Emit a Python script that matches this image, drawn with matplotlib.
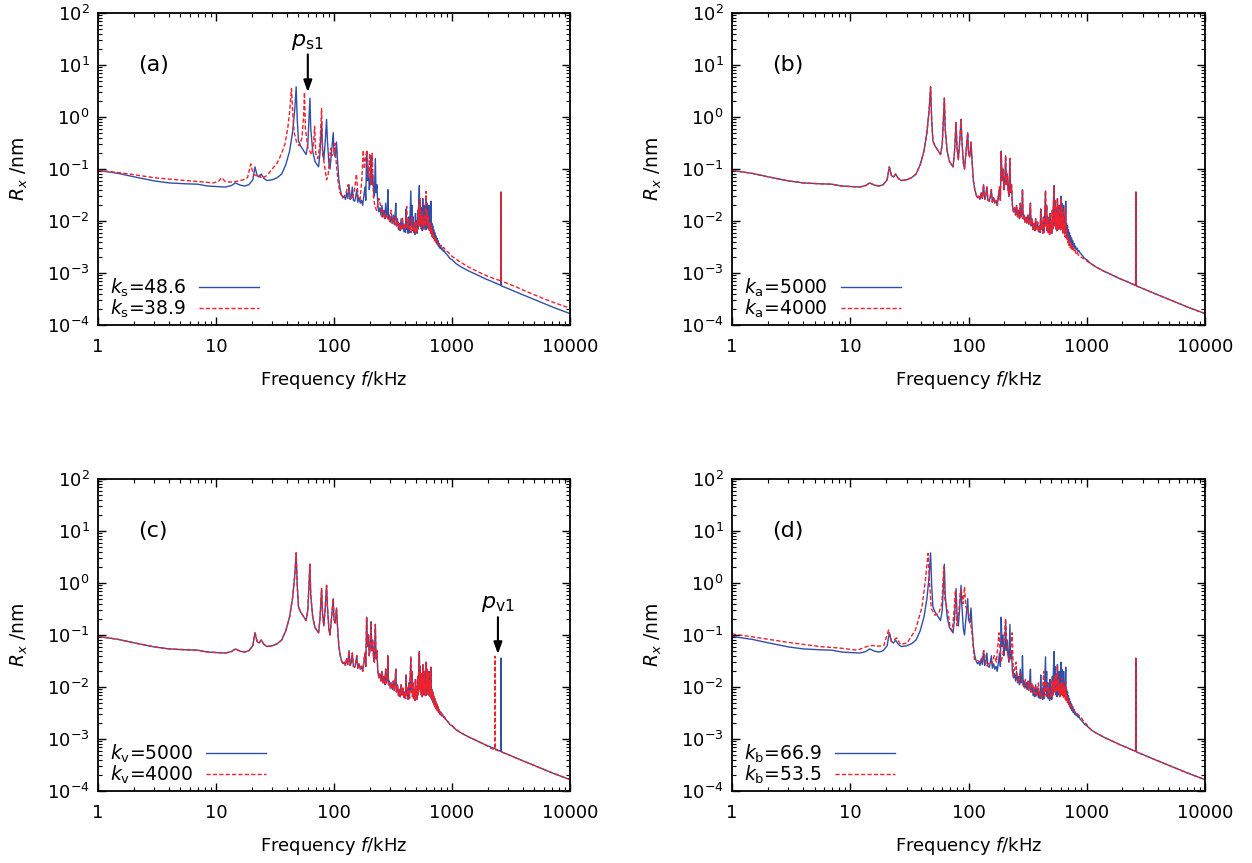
import numpy as np
import matplotlib
matplotlib.use("Agg")
import matplotlib.pyplot as plt
from matplotlib.ticker import LogLocator, FuncFormatter, NullFormatter

# ---- data (f in kHz, R_x in nm) ----
# common (reference) response, drawn blue in every panel: 1 - 1000 kHz
BASE_F = [1.0, 1.5, 2.0, 3.0, 4.0, 5.5, 7.0, 8.5, 10, 12, 13.5, 14.6, 16, 17.5, 19,
          20.5, 21.4, 22.3, 23.2, 24.2, 25.5, 27, 30, 33, 36, 39, 42, 44.5, 46.5, 47.8,
          48.8, 50, 52, 55, 58, 60, 61.5, 62.5, 63.5, 66, 69, 72, 74, 76, 78.5,
          80, 82, 84, 86.5, 88, 90.5, 92.5, 95, 98.5, 100, 102.5, 105, 107,
          110, 113, 116, 119, 122, 125, 128, 131, 134, 137, 140, 143, 146, 150, 153,
          156, 159, 163, 167, 171, 175, 179, 183, 186, 189, 192, 196, 199, 203, 206,
          209, 213, 216, 220, 224, 227, 231, 235, 240, 245, 250, 255, 260, 265, 270,
          274, 278, 283, 286, 290, 295, 300, 306, 312, 318, 324, 330, 334, 338, 345,
          352, 358, 364, 370, 377, 384, 391, 398, 404, 408, 412, 418, 424, 430, 436,
          442, 448, 452, 458, 463, 468, 473, 479, 485, 490, 495, 501, 506, 512, 517,
          522, 529, 533, 537, 541, 546, 550, 555, 560, 565, 569, 574, 579, 584, 589,
          594, 600, 605, 610, 615, 620, 626, 631, 637, 642, 648, 653, 658, 664, 669,
          675, 681, 687, 693, 700, 707, 714, 721, 728, 736, 744, 752, 760, 770, 780,
          790, 802, 815, 830, 845, 860, 880, 900, 930, 960, 1000]
BASE_R = [0.094, 0.082, 0.071, 0.059, 0.054, 0.052, 0.051, 0.047, 0.046, 0.045, 0.048, 0.054, 0.049, 0.047, 0.050,
          0.062, 0.11, 0.075, 0.070, 0.080, 0.066, 0.060, 0.062, 0.068, 0.080, 0.12, 0.22, 0.50, 1.4, 3.8,
          0.9, 0.35, 0.28, 0.23, 0.19, 0.3, 1.0, 2.3, 0.6, 0.22, 0.14, 0.12, 0.11, 0.2, 0.78,
          0.25, 0.15, 0.3, 0.9, 0.35, 0.13, 0.10, 0.2, 0.5, 0.2, 0.17, 0.33, 0.15,
          0.06, 0.04, 0.032, 0.028, 0.03, 0.026, 0.035, 0.027, 0.05, 0.026, 0.03, 0.045, 0.025, 0.024, 0.03,
          0.04, 0.023, 0.028, 0.022, 0.025, 0.02, 0.03, 0.045, 0.025, 0.22, 0.06, 0.1, 0.04, 0.06, 0.18,
          0.05, 0.08, 0.04, 0.03, 0.16, 0.035, 0.05, 0.02, 0.015, 0.018, 0.013, 0.02, 0.012, 0.016, 0.011,
          0.022, 0.012, 0.014, 0.04, 0.011, 0.013, 0.0095, 0.012, 0.009, 0.013, 0.0085, 0.014, 0.022, 0.008, 0.011,
          0.0068, 0.009, 0.0065, 0.011, 0.007, 0.0095, 0.0062, 0.008, 0.006, 0.017, 0.007, 0.0095, 0.0058, 0.012, 0.006,
          0.015, 0.038, 0.008, 0.02, 0.0065, 0.012, 0.006, 0.009, 0.0055, 0.014, 0.006, 0.01, 0.0058, 0.016, 0.007,
          0.02, 0.048, 0.009, 0.025, 0.008, 0.018, 0.007, 0.012, 0.0065, 0.027, 0.009, 0.014, 0.007, 0.02, 0.008,
          0.012, 0.0068, 0.03, 0.009, 0.022, 0.0075, 0.016, 0.007, 0.02, 0.0075, 0.012, 0.0065, 0.01, 0.024, 0.006,
          0.009, 0.0055, 0.008, 0.005, 0.0068, 0.0045, 0.006, 0.0041, 0.0052, 0.0038, 0.0047, 0.0035, 0.0042, 0.0032, 0.0037,
          0.003, 0.0033, 0.0028, 0.003, 0.0026, 0.0027, 0.0024, 0.0023, 0.0021, 0.0019, 0.0018]

# common high-frequency tail with the resonance near 2.6 MHz
TAIL_F = [1080, 1200, 1400, 1600, 1900, 2200, 2450, 2590, 2605, 2620, 2700, 3000, 3500,
          4000, 5000, 6000, 7000, 8500, 10000]
TAIL_R = [0.00152, 0.0013, 0.00108, 0.00094, 0.00078, 0.00068, 0.00061, 0.00058, 0.036, 0.00057,
          0.00055, 0.0005, 0.00043, 0.00038, 0.00031, 0.00026, 0.000225, 0.00019, 0.000166]

# (a) k_s = 38.9
RED_A_F = [1.0, 1.5, 2.0, 3.0, 4.0, 5.5, 7.3, 9.5, 10.5, 11.2, 12.0, 13.5, 15, 17, 18.5,
           19.7, 20.7, 22, 23, 24.5, 27, 30, 33, 36, 38.5, 40.5, 42, 43.6, 44.8, 46,
           48.5, 51, 53.5, 55.2, 56.2, 57.2, 60, 64.5, 67, 68.5, 70, 73, 76, 78.5, 80,
           83, 86.5, 89, 93.7, 96, 98.5, 102, 104, 108, 112, 118, 125, 132, 136, 142,
           148, 155, 160, 166, 172, 177, 181, 185, 191, 196, 201, 205, 211, 216, 222,
           230, 240, 250, 256, 262, 268, 274, 279, 285, 290, 296, 305, 312, 320, 328,
           335, 342, 350, 356, 362, 370, 380, 388, 395, 404, 413, 420, 428, 435, 442,
           450, 455, 462, 470, 478, 485, 492, 500, 507, 514, 522, 528, 535, 540, 546,
           552, 560, 566, 572, 578, 584, 590, 596, 602, 607, 613, 619, 625, 631, 637,
           644, 652, 660, 668, 676, 684, 692, 700, 710, 720, 732, 745, 760, 775, 792,
           810, 830, 850, 880, 930, 1000, 1169, 1400, 1700, 2000,
           2300, 2590, 2605, 2620, 3000, 3500, 4000, 5000, 6000, 7000, 8500, 10000]
RED_A_R = [0.095, 0.085, 0.078, 0.068, 0.064, 0.060, 0.057, 0.054, 0.058, 0.068, 0.057, 0.056, 0.058, 0.062, 0.068,
           0.125, 0.08, 0.074, 0.078, 0.066, 0.075, 0.10, 0.13, 0.20, 0.31, 0.6, 1.2, 3.5, 1.1, 0.5,
           0.31, 0.28, 0.4, 1.0, 3.0, 0.6, 0.26, 0.19, 0.3, 0.66, 0.2, 0.16, 0.3, 1.45, 0.2,
           0.12, 0.062, 0.075, 0.25, 0.18, 0.2, 0.31, 0.15, 0.06, 0.036, 0.028, 0.032, 0.05, 0.03, 0.026,
           0.035, 0.08, 0.028, 0.025, 0.06, 0.23, 0.1, 0.17, 0.23, 0.07, 0.2, 0.05, 0.2, 0.03, 0.019,
           0.016, 0.027, 0.018, 0.012, 0.016, 0.011, 0.014, 0.0134, 0.011, 0.012, 0.0095, 0.016, 0.009, 0.011, 0.0085,
           0.012, 0.008, 0.01, 0.007, 0.0085, 0.0065, 0.012, 0.007, 0.009, 0.0068, 0.019, 0.0075, 0.011, 0.0065, 0.0075,
           0.006, 0.012, 0.0065, 0.0085, 0.006, 0.01, 0.0058, 0.009, 0.006, 0.013, 0.02, 0.008, 0.027, 0.009, 0.012,
           0.0075, 0.015, 0.008, 0.011, 0.007, 0.012, 0.008, 0.018, 0.037, 0.01, 0.016, 0.008, 0.013, 0.0072, 0.01,
           0.0065, 0.009, 0.0058, 0.0075, 0.005, 0.0065, 0.0045, 0.0055, 0.0042, 0.0048, 0.0039, 0.0042, 0.0036, 0.0038, 0.0033,
           0.0034, 0.003, 0.0031, 0.0028, 0.0025, 0.0021, 0.00163, 0.00128, 0.00103, 0.00087,
           0.00077, 0.00071, 0.036, 0.0007, 0.00062, 0.00054, 0.00047, 0.00038, 0.00032, 0.00028, 0.00024, 0.00021]

# (b) k_a = 4000 : differs from the reference only around 600 - 1100 kHz
RED_B_F = [605, 610, 615, 620, 626, 631, 637, 642, 648, 653, 658, 664, 669, 675, 681,
           687, 693, 700, 708, 716, 724, 733, 742, 752, 762, 774, 786, 800, 815, 832,
           850, 870, 900, 940, 1000]
RED_B_R = [0.028, 0.008, 0.018, 0.0065, 0.012, 0.0055, 0.015, 0.006, 0.009, 0.005, 0.0075, 0.018, 0.0048, 0.0065, 0.0042,
           0.0055, 0.0038, 0.0048, 0.0034, 0.0042, 0.0031, 0.0037, 0.0029, 0.0033, 0.0027, 0.003, 0.0025, 0.0027, 0.0023, 0.0025,
           0.0022, 0.0022, 0.002, 0.0019, 0.0017]

# (c) k_v = 4000 : resonance p_v1 moves down in frequency
RED_C_F = [1080, 1200, 1400, 1600, 1900, 2150, 2300, 2315, 2330, 2450, 2620, 2700, 3000,
           3500, 4000, 5000, 6000, 7000, 8500, 10000]
RED_C_R = [0.00152, 0.0013, 0.00108, 0.00094, 0.00078, 0.00066, 0.00063, 0.039, 0.00062, 0.0006, 0.00057,
           0.00055, 0.0005, 0.00043, 0.00038, 0.00031, 0.00026, 0.000225, 0.00019, 0.000166]

# (d) k_b = 53.5
RED_D_F = [1.0, 1.5, 2.0, 3.0, 4.0, 5.5, 8.2, 11.4, 13.8, 15.3, 17, 19.2, 21.1, 22.3, 24.8,
           26.5, 30.2, 35.6, 40.5, 43.2, 45.5, 46.8, 48.5, 52, 56, 59.5, 61.8, 63, 67, 70,
           73, 75.5, 77.6, 79.5, 83, 85.5, 88, 90, 92.5, 95, 99, 103, 107, 112, 120,
           128, 135, 142, 150, 158, 165, 172, 181, 188, 195, 206, 212, 222, 234, 240,
           252, 258, 265, 272, 280, 287, 295, 303, 310, 318, 325, 330, 338, 344, 350,
           358, 364, 370, 377, 384, 390, 396, 403, 410, 417, 425, 434, 440, 447, 455,
           462, 470, 476, 483, 490, 497, 503, 510, 516, 523, 530, 536, 542, 550, 556,
           565, 570, 575, 580, 587, 594, 600, 607, 614, 620, 627, 633, 640, 646, 652,
           658, 664, 670, 678, 686, 694, 702, 710, 720, 730, 740, 750, 765, 780, 800,
           820, 850, 889, 950, 1000]
RED_D_R = [0.105, 0.092, 0.083, 0.072, 0.066, 0.060, 0.056, 0.051, 0.060, 0.063, 0.061, 0.062, 0.125, 0.075, 0.088,
           0.066, 0.07, 0.125, 0.35, 1.14, 3.7, 1.0, 0.32, 0.24, 0.26, 0.4, 2.06, 0.5, 0.28, 0.14,
           0.12, 0.3, 0.73, 0.15, 0.3, 0.73, 0.63, 0.4, 0.85, 0.35, 0.28, 0.2, 0.11, 0.034, 0.032,
           0.03, 0.05, 0.025, 0.03, 0.028, 0.04, 0.03, 0.11, 0.03, 0.04, 0.21, 0.05, 0.03, 0.11, 0.016,
           0.03, 0.014, 0.012, 0.018, 0.016, 0.011, 0.01, 0.014, 0.012, 0.009, 0.013, 0.0095, 0.008, 0.012, 0.011,
           0.0075, 0.01, 0.008, 0.0065, 0.009, 0.012, 0.007, 0.0085, 0.0075, 0.006, 0.011, 0.02, 0.0065, 0.012, 0.007,
           0.009, 0.012, 0.0065, 0.0085, 0.008, 0.006, 0.01, 0.014, 0.007, 0.012, 0.009, 0.016, 0.0075, 0.018, 0.008,
           0.026, 0.0085, 0.014, 0.008, 0.011, 0.0065, 0.012, 0.007, 0.015, 0.007, 0.01, 0.0062, 0.011, 0.0065, 0.009,
           0.0058, 0.0124, 0.0055, 0.007, 0.005, 0.006, 0.0046, 0.0055, 0.0043, 0.0048, 0.004, 0.0042, 0.0036, 0.0036, 0.0032,
           0.0031, 0.0029, 0.0027, 0.0021, 0.0019]

LABELS = {
    "a": (r"$k_{\rm s}$=48.6", r"$k_{\rm s}$=38.9"),
    "b": (r"$k_{\rm a}$=5000", r"$k_{\rm a}$=4000"),
    "c": (r"$k_{\rm v}$=5000", r"$k_{\rm v}$=4000"),
    "d": (r"$k_{\rm b}$=66.9", r"$k_{\rm b}$=53.5"),
}

BLUE = "#2f4fa8"
RED = "#f0202c"

base_f = np.array(BASE_F, float)
base_r = np.array(BASE_R, float)
tail_f = np.array(TAIL_F, float)
tail_r = np.array(TAIL_R, float)

blue_f = np.concatenate([base_f, tail_f])
blue_r = np.concatenate([base_r, tail_r])

keep_b = base_f < 603
curves = {
    "a": (np.array(RED_A_F), np.array(RED_A_R)),
    "b": (np.concatenate([base_f[keep_b], RED_B_F, tail_f]),
          np.concatenate([base_r[keep_b], RED_B_R, tail_r])),
    "c": (np.concatenate([base_f, RED_C_F]), np.concatenate([base_r, RED_C_R])),
    "d": (np.concatenate([RED_D_F, tail_f]), np.concatenate([RED_D_R, tail_r])),
}

# axes rectangles (figure fractions)
W, H = 1252, 863
rects = {
    "a": (98 / W, 1 - 325 / H, 472 / W, 312 / H),
    "b": (732 / W, 1 - 325 / H, 473 / W, 312 / H),
    "c": (98 / W, 1 - 791 / H, 472 / W, 312 / H),
    "d": (732 / W, 1 - 791 / H, 473 / W, 312 / H),
}

fig = plt.figure(figsize=(W / 100, H / 100), dpi=100)

for key in ["a", "b", "c", "d"]:
    ax = fig.add_axes(rects[key])
    lab_blue, lab_red = LABELS[key]
    rf, rr = curves[key]
    ax.plot(blue_f, blue_r, color=BLUE, lw=1.0, label=lab_blue)
    ax.plot(rf, rr, color=RED, lw=1.0, dashes=(3.0, 1.6), label=lab_red)

    ax.set_xscale("log")
    ax.set_yscale("log")
    ax.set_xlim(1, 10000)
    ax.set_ylim(1e-4, 1e2)
    ax.xaxis.set_major_locator(LogLocator(base=10, numticks=10))
    ax.xaxis.set_minor_locator(LogLocator(base=10, subs=np.arange(2, 10), numticks=20))
    ax.xaxis.set_minor_formatter(NullFormatter())
    ax.xaxis.set_major_formatter(FuncFormatter(lambda v, p: f"{v:g}"))
    ax.yaxis.set_major_locator(LogLocator(base=10, numticks=10))
    ax.yaxis.set_minor_locator(LogLocator(base=10, subs=np.arange(2, 10), numticks=20))
    ax.yaxis.set_minor_formatter(NullFormatter())
    ax.tick_params(which="both", direction="in", top=True, right=True, labelsize=13)
    ax.tick_params(which="major", length=6, width=1.0)
    ax.tick_params(which="minor", length=3, width=0.8)
    ax.tick_params(axis="x", which="major", pad=9)
    ax.tick_params(axis="y", which="major", pad=6)
    for s in ax.spines.values():
        s.set_linewidth(1.3)

    ax.set_xlabel(r"Frequency $f$/kHz", fontsize=13, labelpad=10)
    ax.set_ylabel(r"$R_x$ /nm", fontsize=13.5, labelpad=12)
    ax.text(2.2, 10, f"({key})", fontsize=16, ha="left", va="center")

    ax.legend(loc="lower left", bbox_to_anchor=(0.025, 0.015), frameon=False,
              markerfirst=False, fontsize=13.5, handlelength=3.2,
              handletextpad=0.7, labelspacing=-0.05, borderpad=0, borderaxespad=0)

    if key == "a":
        ax.annotate("", xy=(60, 3.0), xytext=(60, 16),
                    arrowprops=dict(arrowstyle="-|>,head_length=0.7,head_width=0.25",
                                    color="k", lw=1.5, shrinkA=0, shrinkB=0))
        ax.text(60, 28, r"$p_{\rm s1}$", fontsize=16, ha="center", va="center")
    if key == "c":
        ax.annotate("", xy=(2450, 0.043), xytext=(2450, 0.22),
                    arrowprops=dict(arrowstyle="-|>,head_length=0.7,head_width=0.25",
                                    color="k", lw=1.5, shrinkA=0, shrinkB=0))
        ax.text(2450, 0.40, r"$p_{\rm v1}$", fontsize=16, ha="center", va="center")

fig.savefig("out.png", dpi=100)
